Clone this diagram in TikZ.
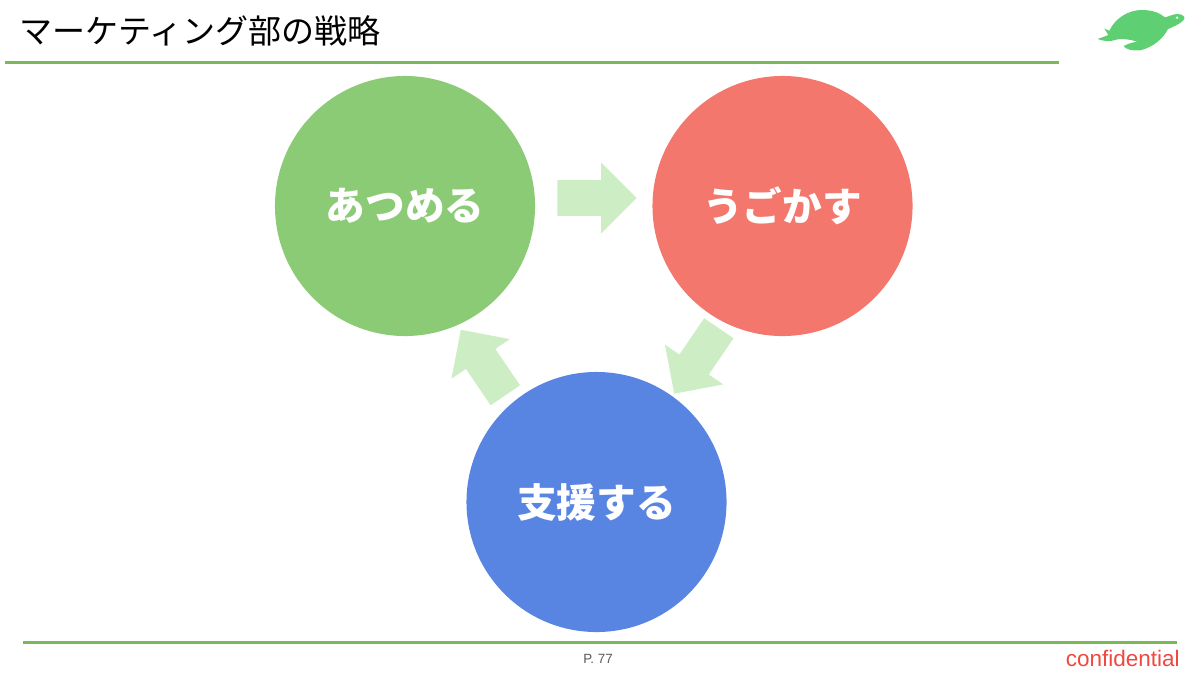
\documentclass[tikz,border=0pt]{standalone}
\usepackage{fontspec}
\setmainfont{Liberation Sans}
\newfontfamily\jpfont{Noto Sans CJK JP}
\usetikzlibrary{shapes.arrows}
\definecolor{rulegreen}{HTML}{7AB85A}
\definecolor{turtlegreen}{HTML}{5FCF73}
\definecolor{circlegreen}{HTML}{8CCB76}
\definecolor{circlered}{HTML}{F3776C}
\definecolor{circleblue}{HTML}{5985E2}
\definecolor{arrowgreen}{HTML}{CDEEC4}
\definecolor{confred}{HTML}{F0483E}
\begin{document}
\begin{tikzpicture}[x=0.025cm, y=-0.025cm,
                phase/.style={circle, minimum size=6.5cm, inner sep=0pt, text=white, font=\jpfont\fontsize{28.2}{32}\selectfont\bfseries},
                flow/.style={single arrow, anchor=tail, fill=arrowgreen, minimum height=1.98cm, inner xsep=0pt, inner ysep=0.4375cm,
                             single arrow head extend=0.4375cm, single arrow tip angle=90, single arrow head indent=0pt},
                rulingline/.style={rulegreen, line width=1.6pt}
            ]
            \useasboundingbox (0,0) rectangle (1200,672);

            % Header
            \node[anchor=west, inner sep=0pt, font=\jpfont\fontsize{23.5}{28}\selectfont] (title) at (19.5,31) {マーケティング部の戦略};
            \coordinate (headL) at (5,62.5);
            \coordinate (headR) at (1059,62.5);
            \draw[rulingline] (headL) -- (headR);

            % Turtle
            \begin{scope}[shift={(1060,0)}, x=0.00833cm, y=-0.00833cm]
                \fill[turtlegreen] (113,117) -- (145,105) -- (133,86) -- (148,92)
                    .. controls (165,55) and (205,30) .. (245,30)
                    .. controls (280,30) and (300,40) .. (315,52)
                    .. controls (325,50) and (340,42) .. (352,42)
                    .. controls (372,42) and (380,55) .. (368,63)
                    .. controls (355,75) and (335,82) .. (324,87)
                    .. controls (310,115) and (280,142) .. (240,151)
                    .. controls (215,153) and (195,147) .. (191,138)
                    .. controls (205,130) and (220,127) .. (232,125)
                    .. controls (210,118) and (190,116) .. (172,118)
                    .. controls (150,126) and (130,124) .. (113,117) -- cycle;
                \fill[white] (351,53) circle (4);
            \end{scope}

            % Phases
            \node[phase, fill=circlegreen] (atsumeru) at (405,206) {あつめる};
            \node[phase, fill=circlered] (ugokasu) at (782.5,206) {うごかす};
            \node[phase, fill=circleblue] (shien) at (596.5,502) {支援する};

            % Arrows
            \node[flow] (flowA) at (557,198) {};
            \node[flow, rotate=235.7] (flowB) at (719,328) {};
            \node[flow, rotate=124.2] (flowC) at (505.5,395.5) {};

            % Footer
            \coordinate (footL) at (23,642.5);
            \coordinate (footR) at (1177,642.5);
            \draw[rulingline] (footL) -- (footR);
            \node[inner sep=0pt, text=black!65, font=\fontsize{9.5}{11}\selectfont] (page) at (598,659) {P. 77};
            \node[anchor=east, inner sep=0pt, text=confred, font=\fontsize{16}{19}\selectfont] (conf) at (1180,658) {confidential};

        \end{tikzpicture}
\end{document}
